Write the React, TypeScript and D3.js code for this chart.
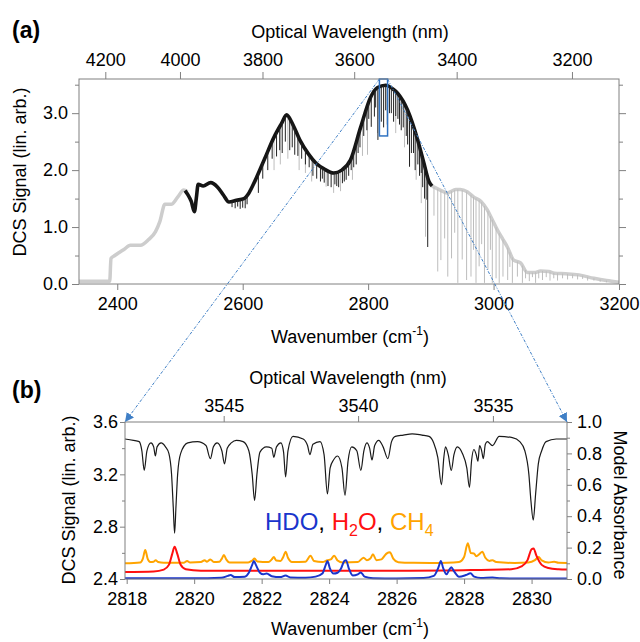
import * as d3 from "d3";
import React, { useEffect, useRef } from "react";

const FONT = "'Liberation Sans', Arial, sans-serif";

// ---- panel (a): survey spectrum ----
const grayLeft: [number, number][] = [
  [2339, 0.05], [2388, 0.05], [2390, 0.45], [2396, 0.5], [2410, 0.6], [2421, 0.68], [2437, 0.68],
  [2450, 0.78], [2461, 0.92], [2468, 1.1], [2476, 1.4], [2486, 1.4], [2496, 1.52], [2506, 1.65], [2512, 1.62],
];
const blackMid: [number, number][] = [
  [2508, 1.64], [2513, 1.56], [2518, 1.45], [2523, 1.27], [2526, 1.5], [2529, 1.75], [2537, 1.72], [2549, 1.78],
  [2560, 1.7], [2570, 1.55], [2578, 1.44], [2590, 1.47], [2602, 1.5], [2610, 1.6], [2620, 1.82], [2635, 2.2],
  [2650, 2.58], [2662, 2.82], [2670, 2.97], [2680, 2.8], [2691, 2.53], [2705, 2.28], [2717, 2.12], [2730, 2.02],
  [2745, 1.95], [2758, 2.0], [2772, 2.18], [2788, 2.75], [2804, 3.28], [2815, 3.45], [2828, 3.49], [2840, 3.42],
  [2847, 3.35], [2863, 3.05], [2879, 2.53], [2889, 2.12], [2897, 1.8], [2902, 1.72],
];
const grayRight: [number, number][] = [
  [2902, 1.72], [2915, 1.65], [2926, 1.6], [2940, 1.66], [2947, 1.66], [2958, 1.62], [2968, 1.53], [2980, 1.45],
  [2990, 1.3], [2997, 1.15], [3006, 0.95], [3014, 0.8], [3022, 0.65], [3032, 0.42], [3043, 0.37], [3054, 0.2],
  [3065, 0.2], [3075, 0.23], [3088, 0.22], [3097, 0.19], [3115, 0.18], [3136, 0.16], [3160, 0.1], [3180, 0.06], [3200, 0.03],
];
// absorption lines: [wavenumber, bottom of line]
const blackDips: [number, number][] = [
  [2583, 1.35], [2588, 1.33], [2592, 1.36], [2596, 1.32], [2600, 1.34], [2604, 1.33], [2607, 1.4],
  [2625, 1.6], [2632, 1.85], [2640, 2.0], [2647, 2.2], [2654, 2.24], [2659, 2.35], [2663, 2.3], [2668, 2.5],
  [2675, 2.35], [2679, 2.4], [2683, 2.27], [2688, 2.25], [2694, 2.2], [2700, 2.1], [2706, 2.05], [2712, 1.9],
  [2718, 1.85], [2724, 1.8], [2727, 1.85], [2730, 1.78], [2736, 1.72], [2741, 1.7], [2747, 1.75], [2750, 1.72],
  [2753, 1.7], [2759, 1.77], [2762, 1.8], [2765, 1.83], [2769, 1.9], [2773, 2.0], [2777, 2.05], [2781, 2.1],
  [2784, 2.3], [2787, 2.4], [2793, 2.6], [2798, 2.7], [2801, 2.9], [2805, 2.76], [2810, 2.94], [2812, 3.1],
  [2815.6, 2.53], [2818, 2.9], [2821, 2.85], [2824.7, 2.75], [2828, 3.05], [2831, 3.1], [2834, 3.0], [2837, 3.0],
  [2840.6, 2.85], [2844, 2.95], [2847.5, 2.9], [2850, 2.8], [2852.8, 2.7], [2856, 2.75], [2860.8, 2.6],
  [2863, 2.45], [2866, 2.06], [2869, 2.3], [2872.4, 2.3], [2875, 2.0], [2879.3, 2.1], [2882, 1.9],
  [2884.7, 1.95], [2887, 1.7], [2890, 1.5], [2893.7, 1.48], [2895, 0.65],
];
const grayDips: [number, number][] = [
  [2650, 2.0], [2660, 2.1], [2672, 2.2], [2690, 2.0], [2700, 1.95], [2710, 1.8], [2733, 1.71], [2745, 1.6],
  [2756, 1.63], [2775, 1.83], [2791, 2.25], [2799, 2.27], [2815, 2.65], [2830, 2.8], [2844, 2.65], [2858, 2.4],
  [2866, 2.06], [2876.6, 1.83], [2884.7, 1.42], [2891.5, 0.83],
  [2905, 1.2], [2911, 0.22], [2916, 0.42], [2922, 0.8], [2927, 0.13], [2933, 0.45], [2938, 0.9], [2943, 0.02],
  [2950, 0.43], [2957, 0.07], [2964, 0.13], [2968, 0.6], [2972, 0.02], [2977, 0.31], [2981, 0.7], [2985.5, 0.02],
  [2991, 0.25], [2995, 0.6], [2998, 0.02], [3004, 0.1], [3009, 0.02], [3015, 0.13], [3022.5, 0.07], [3026, 0.3],
  [3030, 0.02], [3038, 0.13], [3046, 0.02], [3051, 0.1], [3057, 0.05], [3062, 0.12], [3067, 0.02], [3072, 0.1],
  [3078, 0.07], [3084, 0.12], [3090, 0.06], [3096, 0.1], [3102, 0.06], [3110, 0.1], [3118, 0.08], [3126, 0.1],
  [3134, 0.08], [3142, 0.09], [3150, 0.06], [3160, 0.06], [3170, 0.04], [3180, 0.03],
];
const aXTicks = [2400, 2600, 2800, 3000, 3200];
const aYTicks = [0, 1, 2, 3];
const aYMinor = [0.5, 1.5, 2.5, 3.5];
const aWaveTicks = [4200, 4000, 3800, 3600, 3400, 3200];
const zoomBox = { w0: 2818, w1: 2831, v0: 2.6, v1: 3.6 };

// ---- panel (b): zoom ----
const dcsTrace: [number, number][] = [
  [2817.95, 3.47], [2818.2, 3.46], [2818.37, 3.45], [2818.45, 3.38], [2818.52, 3.23], [2818.6, 3.38], [2818.72, 3.44],
  [2818.8, 3.41], [2818.85, 3.34], [2818.9, 3.41], [2819.02, 3.44], [2819.15, 3.41], [2819.25, 3.36], [2819.33, 3.2],
  [2819.38, 2.95], [2819.42, 2.75], [2819.46, 2.95], [2819.51, 3.2], [2819.6, 3.36], [2819.81, 3.44], [2820.1, 3.45],
  [2820.35, 3.42], [2820.48, 3.32], [2820.57, 3.41], [2820.68, 3.44], [2820.82, 3.38], [2820.9, 3.28], [2820.98, 3.4],
  [2821.1, 3.44], [2821.25, 3.46], [2821.45, 3.45], [2821.62, 3.38], [2821.72, 3.2], [2821.79, 3.0], [2821.86, 3.2],
  [2821.95, 3.37], [2822.14, 3.41], [2822.3, 3.4], [2822.36, 3.33], [2822.44, 3.41], [2822.57, 3.44], [2822.65, 3.37],
  [2822.71, 3.18], [2822.78, 3.38], [2822.93, 3.49], [2823.23, 3.47], [2823.36, 3.42], [2823.43, 3.35], [2823.52, 3.43],
  [2823.73, 3.45], [2823.85, 3.35], [2823.95, 3.05], [2824.03, 3.25], [2824.13, 3.31], [2824.25, 3.34], [2824.38, 3.25],
  [2824.47, 3.04], [2824.56, 3.3], [2824.67, 3.41], [2824.82, 3.38], [2824.94, 3.23], [2825.03, 3.38], [2825.12, 3.44],
  [2825.2, 3.4], [2825.27, 3.31], [2825.35, 3.42], [2825.47, 3.46], [2825.6, 3.41], [2825.74, 3.32], [2825.85, 3.45],
  [2825.96, 3.49], [2826.2, 3.5], [2826.46, 3.51], [2826.75, 3.5], [2826.96, 3.49], [2827.1, 3.44], [2827.22, 3.33],
  [2827.33, 3.12], [2827.4, 3.33], [2827.45, 3.41], [2827.53, 3.35], [2827.62, 3.23], [2827.7, 3.35], [2827.8, 3.41],
  [2827.95, 3.36], [2828.08, 3.25], [2828.16, 3.1], [2828.22, 3.3], [2828.29, 3.39], [2828.36, 3.35], [2828.41, 3.3],
  [2828.46, 3.42], [2828.52, 3.38], [2828.57, 3.32], [2828.63, 3.43], [2828.69, 3.45], [2828.84, 3.42], [2829.04, 3.49],
  [2829.43, 3.48], [2829.65, 3.45], [2829.8, 3.38], [2829.92, 3.2], [2829.98, 3.0], [2830.05, 2.85], [2830.12, 3.05],
  [2830.2, 3.28], [2830.3, 3.38], [2830.43, 3.45], [2830.73, 3.47], [2831.05, 3.47],
];
const ch4Model: [number, number][] = [
  [2817.95, 0.1], [2818.4, 0.105], [2818.48, 0.13], [2818.55, 0.185], [2818.62, 0.13], [2818.7, 0.108], [2818.8, 0.11],
  [2818.86, 0.12], [2818.93, 0.108], [2819.1, 0.103], [2819.7, 0.104], [2819.79, 0.115], [2819.88, 0.105], [2820.2, 0.108],
  [2820.31, 0.12], [2820.38, 0.11], [2820.48, 0.125], [2820.58, 0.108], [2820.75, 0.11], [2820.82, 0.13], [2820.88, 0.153],
  [2820.95, 0.125], [2821.05, 0.105], [2821.6, 0.105], [2821.72, 0.118], [2821.79, 0.13], [2821.87, 0.112], [2822.2, 0.108],
  [2822.3, 0.125], [2822.36, 0.14], [2822.43, 0.118], [2822.56, 0.115], [2822.64, 0.14], [2822.71, 0.174], [2822.78, 0.135],
  [2822.9, 0.108], [2823.3, 0.11], [2823.45, 0.148], [2823.55, 0.115], [2823.8, 0.108], [2823.95, 0.12], [2824.05, 0.125],
  [2824.15, 0.148], [2824.25, 0.118], [2824.4, 0.105], [2824.85, 0.108], [2825.02, 0.136], [2825.12, 0.12], [2825.22, 0.13],
  [2825.3, 0.157], [2825.4, 0.12], [2825.55, 0.125], [2825.65, 0.15], [2825.71, 0.163], [2825.8, 0.17], [2825.9, 0.13],
  [2826.05, 0.107], [2826.5, 0.103], [2827.0, 0.102], [2827.5, 0.103], [2827.85, 0.108], [2828.0, 0.14], [2828.11, 0.227],
  [2828.2, 0.165], [2828.29, 0.163], [2828.36, 0.145], [2828.46, 0.16], [2828.54, 0.174], [2828.63, 0.135], [2828.75, 0.115],
  [2828.84, 0.12], [2828.95, 0.108], [2829.5, 0.102], [2829.9, 0.105], [2830.1, 0.12], [2830.21, 0.14], [2830.3, 0.118],
  [2830.5, 0.105], [2830.67, 0.11], [2830.8, 0.103], [2831.05, 0.102],
];
const h2oModel: [number, number][] = [
  [2817.95, 0.045], [2818.8, 0.048], [2819.1, 0.06], [2819.25, 0.09], [2819.35, 0.16], [2819.42, 0.206], [2819.5, 0.16],
  [2819.6, 0.09], [2819.75, 0.062], [2820.2, 0.053], [2822, 0.052], [2824, 0.052], [2826, 0.053], [2827.5, 0.054],
  [2828.5, 0.058], [2829.4, 0.062], [2829.7, 0.08], [2829.88, 0.12], [2830.0, 0.19], [2830.06, 0.195], [2830.14, 0.15],
  [2830.3, 0.09], [2830.5, 0.07], [2830.8, 0.062], [2831.05, 0.06],
];
const hdoModel: [number, number][] = [
  [2817.95, 0.005], [2820, 0.004], [2820.8, 0.008], [2821.0, 0.02], [2821.08, 0.025], [2821.2, 0.012], [2821.5, 0.015],
  [2821.62, 0.04], [2821.72, 0.09], [2821.77, 0.115], [2821.83, 0.09], [2821.95, 0.04], [2822.05, 0.03], [2822.15, 0.035],
  [2822.3, 0.018], [2822.55, 0.012], [2822.71, 0.022], [2822.85, 0.01], [2823.3, 0.008], [2823.6, 0.015], [2823.8, 0.035],
  [2823.9, 0.09], [2823.95, 0.115], [2824.02, 0.07], [2824.13, 0.035], [2824.25, 0.04], [2824.35, 0.065], [2824.45, 0.115],
  [2824.5, 0.12], [2824.58, 0.07], [2824.7, 0.022], [2824.85, 0.03], [2824.94, 0.042], [2825.05, 0.015], [2825.3, 0.005],
  [2826, 0.003], [2826.8, 0.006], [2827.1, 0.02], [2827.25, 0.08], [2827.31, 0.115], [2827.38, 0.07], [2827.48, 0.03],
  [2827.55, 0.055], [2827.62, 0.075], [2827.7, 0.05], [2827.85, 0.015], [2828.05, 0.025], [2828.19, 0.036], [2828.3, 0.015],
  [2828.5, 0.006], [2828.84, 0.01], [2829.1, 0.004], [2831.05, 0.003],
];
const bXTicks = [2818, 2820, 2822, 2824, 2826, 2828, 2830];
const bYTicks = [2.4, 2.8, 3.2, 3.6];
const bYMinor = [2.6, 3.0, 3.4];
const bAbsTicks = [0, 0.2, 0.4, 0.6, 0.8, 1.0];
const bAbsMinor = [0.1, 0.3, 0.5, 0.7, 0.9];
const bWaveTicks = [3545, 3540, 3535];

const BLUE = "#1a35cc";
const RED = "#ff1010";
const ORANGE = "#ffa400";
const LINK = "#3f7fc6";

export default function App() {
  const svgRef = useRef(null);

  useEffect(() => {
    const svg = d3.select(svgRef.current);
    svg.selectAll("*").remove();

    const styleAxis = (g: any) => {
      g.select(".domain").remove();
      g.selectAll("line").attr("stroke", "#808080");
      g.selectAll("text").attr("fill", "#000").attr("font-size", 18).attr("font-family", FONT);
    };

    svg.append("defs").append("marker")
      .attr("id", "arr").attr("viewBox", "0 0 10 10").attr("refX", 10).attr("refY", 5)
      .attr("markerWidth", 9).attr("markerHeight", 9).attr("orient", "auto")
      .append("path").attr("d", "M0,0L10,5L0,10z").attr("fill", LINK);

    /* ===== panel (a) ===== */
    const aL = 79, aR = 619, aT = 79, aB = 284;
    const xA = d3.scaleLinear().domain([2339, 3200]).range([aL, aR]);
    const yA = d3.scaleLinear().domain([0, 3.6]).range([aB, aT]);

    const lineA = d3.line<[number, number]>().x((d) => xA(d[0])).y((d) => yA(d[1])).curve(d3.curveMonotoneX);
    const allEnv = [...grayLeft, ...blackMid, ...grayRight].sort((p, q) => p[0] - q[0]);
    const envAt = (env: [number, number][], w: number) => {
      const i = Math.max(1, Math.min(env.length - 1, d3.bisector((d: [number, number]) => d[0]).left(env, w)));
      const a = env[i - 1], b = env[i];
      const t = (w - a[0]) / (b[0] - a[0] || 1);
      return a[1] + (b[1] - a[1]) * t;
    };

    const gA = svg.append("g");
    [grayLeft, grayRight].forEach((seg) => {
      gA.append("path").datum(seg).attr("fill", "none").attr("stroke", "#cdcdcd")
        .attr("stroke-width", 3.5).attr("d", lineA);
    });
    gA.selectAll(".gdip").data(grayDips).join("line")
      .attr("x1", (d) => xA(d[0])).attr("x2", (d) => xA(d[0]))
      .attr("y1", (d) => yA(envAt(allEnv, d[0]))).attr("y2", (d) => yA(d[1]))
      .attr("stroke", "#bdbdbd").attr("stroke-width", 1);
    gA.append("path").datum(blackMid).attr("fill", "none").attr("stroke", "#151515")
      .attr("stroke-width", 3.6).attr("d", lineA);
    gA.selectAll(".bdip").data(blackDips).join("line")
      .attr("x1", (d) => xA(d[0])).attr("x2", (d) => xA(d[0]))
      .attr("y1", (d) => yA(envAt(blackMid, d[0]))).attr("y2", (d) => yA(d[1]))
      .attr("stroke", "#222").attr("stroke-width", 1);

    // zoom box
    svg.append("rect")
      .attr("x", xA(zoomBox.w0)).attr("y", yA(zoomBox.v1))
      .attr("width", xA(zoomBox.w1) - xA(zoomBox.w0)).attr("height", yA(zoomBox.v0) - yA(zoomBox.v1))
      .attr("fill", "none").attr("stroke", "#2f72c2").attr("stroke-width", 1.5);

    // axes (a)
    svg.append("g").attr("transform", `translate(0,${aB})`)
      .call(d3.axisBottom(xA).tickValues(aXTicks).tickSize(6).tickPadding(7).tickFormat(d3.format("d")))
      .call(styleAxis);
    svg.append("g").attr("transform", `translate(0,${aT})`)
      .call(d3.axisTop(xA).tickValues(aWaveTicks.map((l) => 1e7 / l)).tickSize(7).tickPadding(6)
        .tickFormat((d: any) => String(Math.round(1e7 / d))))
      .call(styleAxis);
    svg.append("g").attr("transform", `translate(${aL},0)`)
      .call(d3.axisLeft(yA).tickValues(aYTicks).tickSize(7).tickPadding(4).tickFormat(d3.format(".1f")))
      .call(styleAxis);
    svg.append("g").attr("transform", `translate(${aL},0)`)
      .call(d3.axisLeft(yA).tickValues(aYMinor).tickSize(4).tickFormat(() => ""))
      .call(styleAxis);
    svg.append("g").attr("transform", `translate(${aR},0)`)
      .call(d3.axisRight(yA).tickValues(aYTicks).tickSize(7).tickFormat(() => ""))
      .call(styleAxis);
    svg.append("g").attr("transform", `translate(${aR},0)`)
      .call(d3.axisRight(yA).tickValues(aYMinor).tickSize(4).tickFormat(() => ""))
      .call(styleAxis);
    svg.append("rect").attr("x", aL).attr("y", aT).attr("width", aR - aL).attr("height", aB - aT)
      .attr("fill", "none").attr("stroke", "#808080").attr("stroke-width", 1);

    /* ===== panel (b) ===== */
    const bL = 125, bR = 567, bT = 422, bB = 579;
    const xB = d3.scaleLinear().domain([2817.95, 2831.05]).range([bL, bR]);
    const yB = d3.scaleLinear().domain([2.4, 3.6]).range([bB, bT]);
    const yAbs = d3.scaleLinear().domain([0, 1]).range([bB, bT]);

    const lineB = d3.line<[number, number]>().x((d) => xB(d[0])).y((d) => yB(d[1])).curve(d3.curveMonotoneX);
    const lineAbs = d3.line<[number, number]>().x((d) => xB(d[0])).y((d) => yAbs(d[1])).curve(d3.curveMonotoneX);

    svg.append("path").datum(ch4Model).attr("fill", "none").attr("stroke", ORANGE).attr("stroke-width", 2).attr("d", lineAbs);
    svg.append("path").datum(h2oModel).attr("fill", "none").attr("stroke", RED).attr("stroke-width", 2).attr("d", lineAbs);
    svg.append("path").datum(hdoModel).attr("fill", "none").attr("stroke", BLUE).attr("stroke-width", 2).attr("d", lineAbs);
    svg.append("path").datum(dcsTrace).attr("fill", "none").attr("stroke", "#1a1a1a").attr("stroke-width", 1.2).attr("d", lineB);

    svg.append("g").attr("transform", `translate(0,${bB})`)
      .call(d3.axisBottom(xB).tickValues(bXTicks).tickSize(5).tickPadding(8).tickFormat(d3.format("d")))
      .call(styleAxis);
    svg.append("g").attr("transform", `translate(0,${bT})`)
      .call(d3.axisTop(xB).tickValues(bWaveTicks.map((l) => 1e7 / l)).tickSize(6).tickPadding(4)
        .tickFormat((d: any) => String(Math.round(1e7 / d))))
      .call(styleAxis);
    svg.append("g").attr("transform", `translate(${bL},0)`)
      .call(d3.axisLeft(yB).tickValues(bYTicks).tickSize(5).tickPadding(2).tickFormat(d3.format(".1f")))
      .call(styleAxis);
    svg.append("g").attr("transform", `translate(${bL},0)`)
      .call(d3.axisLeft(yB).tickValues(bYMinor).tickSize(3).tickFormat(() => ""))
      .call(styleAxis);
    svg.append("g").attr("transform", `translate(${bR},0)`)
      .call(d3.axisRight(yAbs).tickValues(bAbsTicks).tickSize(5).tickPadding(5).tickFormat(d3.format(".1f")))
      .call(styleAxis);
    svg.append("g").attr("transform", `translate(${bR},0)`)
      .call(d3.axisRight(yAbs).tickValues(bAbsMinor).tickSize(3).tickFormat(() => ""))
      .call(styleAxis);
    svg.append("rect").attr("x", bL).attr("y", bT).attr("width", bR - bL).attr("height", bB - bT)
      .attr("fill", "none").attr("stroke", "#808080").attr("stroke-width", 1);

    // connector lines
    [[zoomBox.w0, bL], [zoomBox.w1, bR]].forEach(([w, xb]) => {
      svg.append("line")
        .attr("x1", xA(w)).attr("y1", aT).attr("x2", xb).attr("y2", bT)
        .attr("stroke", LINK).attr("stroke-width", 1).attr("stroke-dasharray", "3,1.5,1,1.5")
        .attr("marker-end", "url(#arr)");
    });

    /* ===== texts ===== */
    const txt = (x: number, y: number, s: string, size = 18, extra?: (t: any) => void) => {
      const t = svg.append("text").attr("x", x).attr("y", y).attr("font-family", FONT)
        .attr("font-size", size).attr("fill", "#000").text(s);
      if (extra) extra(t);
      return t;
    };
    txt(12, 38, "(a)", 23, (t) => t.attr("font-weight", "bold"));
    txt(12, 398, "(b)", 23, (t) => t.attr("font-weight", "bold"));
    txt(350, 38, "Optical Wavelength (nm)", 18, (t) => t.attr("text-anchor", "middle"));
    txt(348, 384, "Optical Wavelength (nm)", 18, (t) => t.attr("text-anchor", "middle"));

    [[343], [635]].forEach(([y]) => {
      const t = svg.append("text").attr("x", 350).attr("y", y).attr("text-anchor", "middle")
        .attr("font-family", FONT).attr("font-size", 18).attr("fill", "#000");
      t.append("tspan").text("Wavenumber (cm");
      t.append("tspan").attr("dy", -8).attr("font-size", 12).text("-1");
      t.append("tspan").attr("dy", 8).text(")");
    });

    txt(0, 0, "DCS Signal (lin. arb.)", 18, (t) =>
      t.attr("text-anchor", "middle").attr("transform", "translate(26,172) rotate(-90)"));
    txt(0, 0, "DCS Signal (lin. arb.)", 18, (t) =>
      t.attr("text-anchor", "middle").attr("transform", "translate(75,500) rotate(-90)"));
    txt(0, 0, "Model Absorbance", 18, (t) =>
      t.attr("text-anchor", "middle").attr("transform", "translate(614,505) rotate(90)"));

    const leg = svg.append("text").attr("x", 265).attr("y", 530).attr("font-family", FONT).attr("font-size", 24);
    leg.append("tspan").attr("fill", BLUE).text("HDO");
    leg.append("tspan").attr("fill", "#000").text(", ");
    leg.append("tspan").attr("fill", RED).text("H");
    leg.append("tspan").attr("fill", RED).attr("font-size", 16).attr("dy", 6).text("2");
    leg.append("tspan").attr("fill", RED).attr("dy", -6).text("O");
    leg.append("tspan").attr("fill", "#000").text(", ");
    leg.append("tspan").attr("fill", ORANGE).text("CH");
    leg.append("tspan").attr("fill", ORANGE).attr("font-size", 16).attr("dy", 6).text("4");
  }, []);

  return (
    <svg ref={svgRef} width={640} height={642}
      style={{ position: "absolute", left: 0, top: 0, background: "#fff" }} />
  );
}
